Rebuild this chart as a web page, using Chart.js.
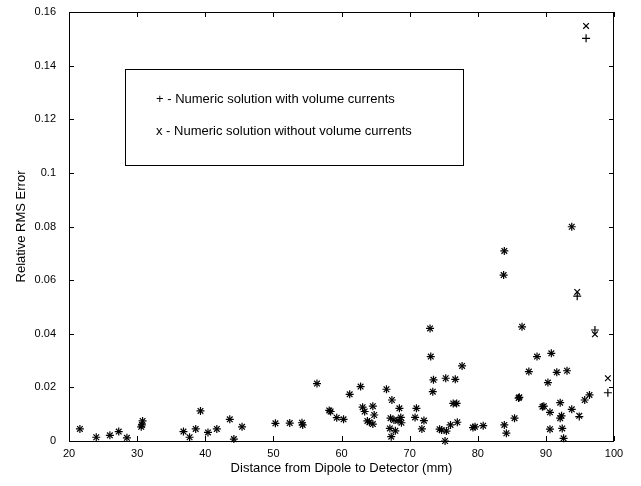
<!DOCTYPE html>
<html>
<head>
<meta charset="utf-8">
<script src="https://cdn.jsdelivr.net/npm/chart.js@4.4.1/dist/chart.umd.min.js"></script>
<style>
  html, body { margin: 0; padding: 0; background: #fff; }
</style>
</head>
<body>
<canvas id="rmsChart" width="641" height="486"></canvas>
<script>
/* =========================
   DATA
========================= */
const distance = [
  21.6, 24.0, 26.0, 27.3, 28.5, 30.6, 30.7, 30.8, 36.8, 37.7,
  38.6, 39.3, 40.4, 41.7, 43.6, 44.2, 45.4, 50.3, 52.4, 54.2,
  54.3, 56.4, 58.2, 58.4, 59.3, 60.3, 61.2, 62.8, 63.1, 63.4,
  63.8, 64.1, 64.6, 64.6, 64.8, 66.6, 67.1, 67.2, 67.3, 67.4,
  67.7, 67.9, 68.3, 68.5, 68.7, 68.8, 70.8, 71.0, 71.8, 72.1,
  73.0, 73.1, 73.4, 73.5, 74.4, 74.7, 75.2, 75.3, 75.4, 76.0,
  76.4, 76.7, 76.9, 77.0, 77.7, 79.3, 79.6, 80.8, 83.8, 83.9,
  83.9, 84.2, 85.4, 86.0, 86.1, 86.5, 87.5, 88.7, 89.5, 89.7,
  90.3, 90.6, 90.6, 90.8, 91.6, 92.1, 92.1, 92.3, 92.4, 92.6,
  93.1, 93.8, 93.8, 94.6, 94.9, 95.7, 95.9, 96.4, 97.2, 99.1
];

// with volume currents (+)
const errWith = [
  0.0045, 0.0014, 0.0021, 0.0035, 0.0012, 0.0053, 0.0060, 0.0075, 0.0035, 0.0014,
  0.0045, 0.0112, 0.0032, 0.0045, 0.0081, 0.0007, 0.0053, 0.0066, 0.0067, 0.0068,
  0.0060, 0.0214, 0.0114, 0.0110, 0.0087, 0.0081, 0.0174, 0.0203, 0.0126, 0.0110,
  0.0075, 0.0070, 0.0130, 0.0063, 0.0097, 0.0193, 0.0047, 0.0085, 0.0016, 0.0153,
  0.0078, 0.0038, 0.0076, 0.0122, 0.0088, 0.0068, 0.0088, 0.0122, 0.0045, 0.0076,
  0.0420, 0.0315, 0.0184, 0.0228, 0.0044, 0.0041, 0.0000, 0.0234, 0.0037, 0.0060,
  0.0140, 0.0230, 0.0140, 0.0070, 0.0280, 0.0050, 0.0053, 0.0057, 0.0619, 0.0709,
  0.0060, 0.0029, 0.0085, 0.0160, 0.0163, 0.0426, 0.0259, 0.0315, 0.0128, 0.0130,
  0.0218, 0.0107, 0.0044, 0.0327, 0.0256, 0.0143, 0.0085, 0.0094, 0.0047, 0.0010,
  0.0262, 0.0799, 0.0118, 0.0540, 0.0091, 0.0153, 0.1502, 0.0172, 0.0414, 0.0180
];

// without volume currents (x)
const errWithout = [
  0.0045, 0.0014, 0.0021, 0.0035, 0.0012, 0.0053, 0.0060, 0.0075, 0.0035, 0.0014,
  0.0045, 0.0112, 0.0032, 0.0045, 0.0081, 0.0007, 0.0053, 0.0066, 0.0067, 0.0068,
  0.0060, 0.0214, 0.0114, 0.0110, 0.0087, 0.0081, 0.0174, 0.0203, 0.0126, 0.0110,
  0.0075, 0.0070, 0.0130, 0.0063, 0.0097, 0.0193, 0.0047, 0.0085, 0.0016, 0.0153,
  0.0078, 0.0038, 0.0076, 0.0122, 0.0088, 0.0068, 0.0088, 0.0122, 0.0045, 0.0076,
  0.0420, 0.0315, 0.0184, 0.0228, 0.0044, 0.0041, 0.0000, 0.0234, 0.0037, 0.0060,
  0.0140, 0.0230, 0.0140, 0.0070, 0.0280, 0.0050, 0.0053, 0.0057, 0.0619, 0.0709,
  0.0060, 0.0029, 0.0085, 0.0160, 0.0163, 0.0426, 0.0259, 0.0315, 0.0128, 0.0130,
  0.0218, 0.0107, 0.0044, 0.0327, 0.0256, 0.0143, 0.0085, 0.0094, 0.0047, 0.0010,
  0.0262, 0.0799, 0.0118, 0.0556, 0.0094, 0.0153, 0.1548, 0.0172, 0.0398, 0.0234
];

const legendLabels = [
  '+ - Numeric solution with volume currents',
  'x - Numeric solution without volume currents'
];

const xTitle = 'Distance from Dipole to Detector (mm)';
const yTitle = 'Relative RMS Error';

const toPoints = (ys) => distance.map((d, i) => ({ x: d, y: ys[i] }));

/* =========================
   FRAME, INWARD TICKS, LEGEND BOX
========================= */
const matlabFrame = {
  id: 'matlabFrame',
  afterDraw(chart) {
    const { ctx, chartArea: a, scales: { x, y } } = chart;
    ctx.save();
    ctx.strokeStyle = '#000';
    ctx.lineWidth = 1;
    ctx.strokeRect(a.left + 0.5, a.top + 0.5, a.right - a.left - 1, a.bottom - a.top);

    ctx.beginPath();
    x.ticks.forEach(t => {
      const px = Math.round(x.getPixelForValue(t.value)) + 0.5;
      ctx.moveTo(px, a.bottom); ctx.lineTo(px, a.bottom - 5);
      ctx.moveTo(px, a.top); ctx.lineTo(px, a.top + 5);
    });
    y.ticks.forEach(t => {
      const py = Math.round(y.getPixelForValue(t.value)) + 0.5;
      ctx.moveTo(a.left, py); ctx.lineTo(a.left + 5, py);
      ctx.moveTo(a.right, py); ctx.lineTo(a.right - 5, py);
    });
    ctx.stroke();

    // legend box
    const bx = a.left + 56, by = a.top + 57;
    ctx.fillStyle = '#fff';
    ctx.fillRect(bx, by, 338, 96);
    ctx.strokeRect(bx + 0.5, by + 0.5, 338, 96);
    ctx.fillStyle = '#000';
    ctx.font = '13px "Liberation Sans", Arial, sans-serif';
    ctx.textBaseline = 'middle';
    ctx.fillText(legendLabels[0], bx + 31, by + 30);
    ctx.fillText(legendLabels[1], bx + 31, by + 62);
    ctx.restore();
  }
};

/* =========================
   CHART
========================= */
const ctx = document.getElementById('rmsChart').getContext('2d');

new Chart(ctx, {
  type: 'scatter',
  data: {
    datasets: [
      {
        label: legendLabels[0],
        data: toPoints(errWith),
        pointStyle: 'cross',
        pointRadius: 4,
        borderColor: '#000',
        borderWidth: 1.2,
        clip: false
      },
      {
        label: legendLabels[1],
        data: toPoints(errWithout),
        pointStyle: 'crossRot',
        pointRadius: 4,
        borderColor: '#000',
        borderWidth: 1.2,
        clip: false
      }
    ]
  },
  options: {
    responsive: false,
    animation: false,
    layout: { padding: { left: 0, right: 27, top: 12, bottom: 0 } },
    plugins: {
      legend: { display: false },
      tooltip: { enabled: false }
    },
    scales: {
      x: {
        type: 'linear',
        min: 20,
        max: 100,
        grid: { display: false, drawTicks: false },
        border: { display: false },
        ticks: {
          stepSize: 10,
          color: '#000',
          padding: 6,
          maxRotation: 0,
          font: { family: '"Liberation Sans", Arial, sans-serif', size: 11 }
        },
        title: {
          display: true,
          text: xTitle,
          color: '#000',
          padding: { top: 0, bottom: 10 },
          font: { family: '"Liberation Sans", Arial, sans-serif', size: 13 }
        },
        afterFit: (scale) => { scale.height = 45; }
      },
      y: {
        type: 'linear',
        min: 0,
        max: 0.16,
        grid: { display: false, drawTicks: false },
        border: { display: false },
        ticks: {
          stepSize: 0.02,
          color: '#000',
          padding: 13,
          font: { family: '"Liberation Sans", Arial, sans-serif', size: 11 },
          callback: (value) => String(+value.toFixed(2))
        },
        title: {
          display: true,
          text: yTitle,
          color: '#000',
          padding: { top: 14, bottom: 0 },
          font: { family: '"Liberation Sans", Arial, sans-serif', size: 13 }
        },
        afterFit: (scale) => {
          scale.width = 69;
          // keep label padding from pushing the plot area down
          scale.paddingTop = 0;
          scale.paddingBottom = 0;
        }
      }
    }
  },
  plugins: [matlabFrame]
});
</script>
</body>
</html>
